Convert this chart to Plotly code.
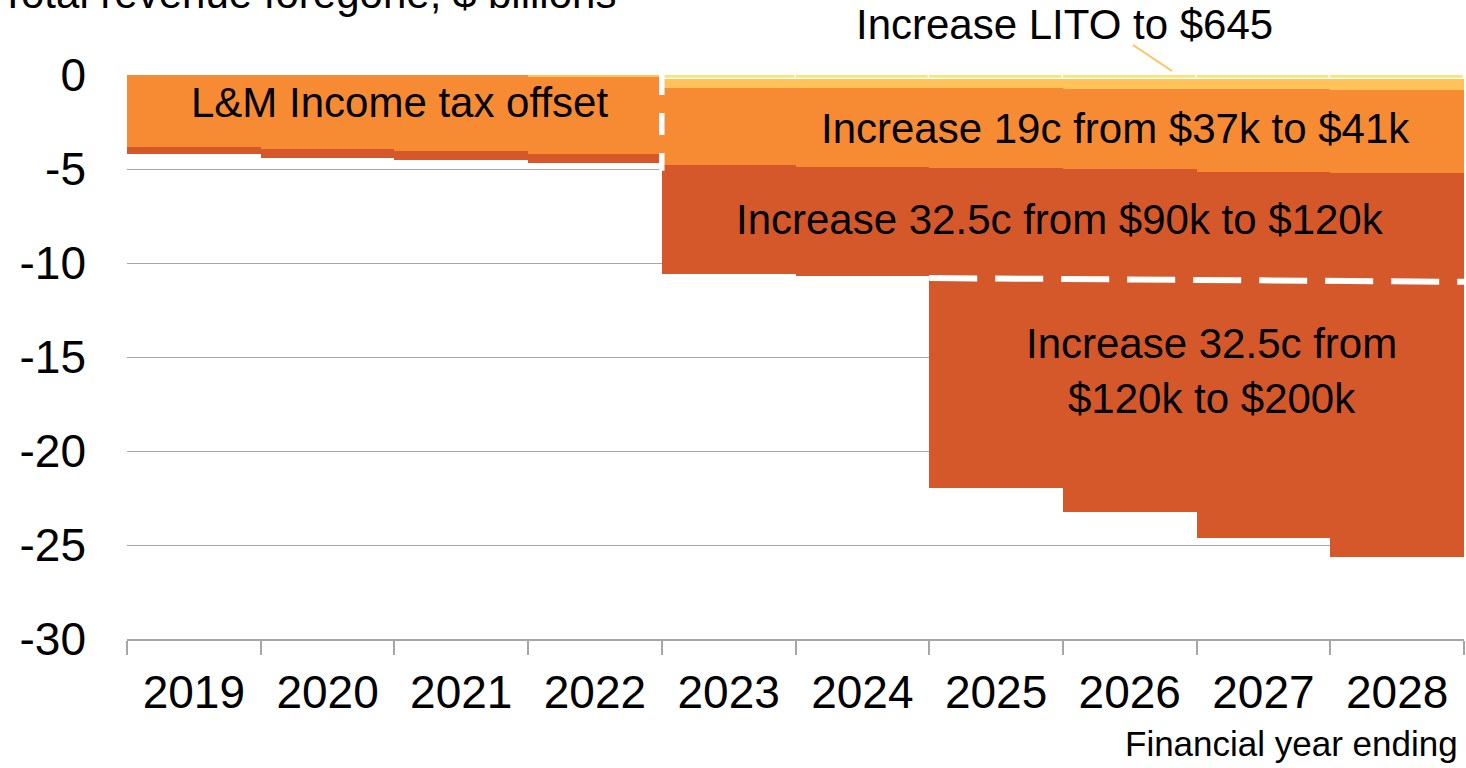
import plotly.graph_objects as go

years = ['2019', '2020', '2021', '2022', '2023', '2024', '2025', '2026', '2027', '2028']
lito_light = [0, 0, 0, 0, -0.2, -0.2, -0.2, -0.2, -0.2, -0.2]
lito_gold = [0, 0, 0, -0.1, -0.47, -0.5, -0.51, -0.56, -0.57, -0.6]
lm_offset = [-3.83, -3.95, -4.02, -4.1, 0, 0, 0, 0, 0, 0]
bracket_19c = [0, 0, 0, 0, -4.12, -4.18, -4.25, -4.24, -4.37, -4.4]
bracket_90_120 = [-0.37, -0.45, -0.5, -0.5, -5.8, -5.82, -5.84, -5.87, -5.76, -5.8]
bracket_120_200 = [0, 0, 0, 0, 0, 0, -11.18, -12.39, -13.74, -14.62]

YELLOW_LIGHT = '#FFE07F'
YELLOW = '#FFC35A'
ORANGE = '#F68B33'
DARK = '#D4582A'
FONT = 'Liberation Sans, Arial, sans-serif'

W, H = 1466, 768
ML, MR, MT, MB = 127, 2, 75, 129
PW, PH = W - ML - MR, H - MT - MB


def px(x):
    return (x - ML) / PW


def py(y):
    return (H - MB - y) / PH


fig = go.Figure()
series = [
    (lito_light, YELLOW_LIGHT, 1.2),
    (lito_gold, YELLOW, 0),
    (lm_offset, ORANGE, 0),
    (bracket_19c, ORANGE, 0),
    (bracket_90_120, DARK, 0),
    (bracket_120_200, DARK, 0),
]
for vals, col, lw in series:
    fig.add_trace(go.Bar(x=years, y=vals, marker=dict(color=col, line=dict(color='white', width=lw)),
                         showlegend=False, hoverinfo='skip'))

# stack bottoms for decorations
n = len(years)
bottom_19 = [lito_light[i] + lito_gold[i] + lm_offset[i] + bracket_19c[i] for i in range(n)]
bottom_90 = [bottom_19[i] + bracket_90_120[i] for i in range(n)]

# vertical dashed separator between 2022 and 2023
fig.add_shape(type='line', x0=3.5, x1=3.5, y0=0.1, y1=bottom_19[4] - 0.3, xref='x', yref='y',
              line=dict(color='white', width=5.5, dash='22px,18px'), layer='above')
# horizontal dashed separator above the $120k-$200k block
fig.add_shape(type='line', x0=5.5, x1=9.5, y0=bottom_90[6], y1=bottom_90[9], xref='x', yref='y',
              line=dict(color='white', width=6, dash='48px,18px'), layer='above')
# pointer for LITO label
fig.add_shape(type='line', x0=px(1133), y0=py(45), x1=px(1172), y1=py(71), xref='paper', yref='paper',
              line=dict(color=YELLOW, width=2))

annos = [
    dict(text='L&M Income tax offset', x=1.54, y=-1.45),
    dict(text='Increase 19c from $37k to $41k', x=6.89, y=-2.82),
    dict(text='Increase 32.5c from $90k to $120k', x=6.48, y=-7.71),
    dict(text='Increase 32.5c from<br>$120k to $200k', x=7.615, y=-15.77),
]
for a in annos:
    fig.add_annotation(text=a['text'], x=a['x'], y=a['y'], xref='x', yref='y', showarrow=False,
                       font=dict(size=42, color='black', family=FONT), xanchor='center', yanchor='middle')

fig.add_annotation(text='Increase LITO to $645', x=px(1064), y=py(24.5), xref='paper', yref='paper',
                   showarrow=False, font=dict(size=42, color='black', family=FONT),
                   xanchor='center', yanchor='middle')
fig.add_annotation(text='Total revenue foregone, $ billions', x=px(-2), y=py(-7), xref='paper', yref='paper',
                   showarrow=False, font=dict(size=42, color='black', family=FONT),
                   xanchor='left', yanchor='middle')
fig.add_annotation(text='Financial year ending', x=px(1460), y=py(743.5), xref='paper', yref='paper',
                   showarrow=False, font=dict(size=35, color='black', family=FONT),
                   xanchor='right', yanchor='middle')

fig.update_layout(
    width=W, height=H, autosize=False,
    margin=dict(l=ML, r=MR, t=MT, b=MB, pad=0),
    barmode='relative', bargap=0,
    plot_bgcolor='white', paper_bgcolor='white',
    font=dict(family=FONT, size=46, color='black'),
)
fig.update_xaxes(type='category', showgrid=False, showline=True, linecolor='#A6A6A6', linewidth=1.5,
                 ticks='outside', tickson='boundaries', ticklen=14, tickcolor='#A6A6A6', tickwidth=1.5,
                 ticklabelstandoff=12,
                 tickfont=dict(size=46, family=FONT, color='black'), range=[-0.5, 9.5])
fig.update_yaxes(range=[-30, 0], tickvals=[0, -5, -10, -15, -20, -25, -30],
                 ticktext=['0', '-5', '-10', '-15', '-20', '-25', '-30'],
                 showgrid=True, gridcolor='#A6A6A6', gridwidth=1.3, zeroline=True, zerolinecolor='#A6A6A6',
                 zerolinewidth=1.3, showline=False, ticks='', ticklabelstandoff=40,
                 tickfont=dict(size=46, family=FONT, color='black'))

fig.write_html('out.html')
